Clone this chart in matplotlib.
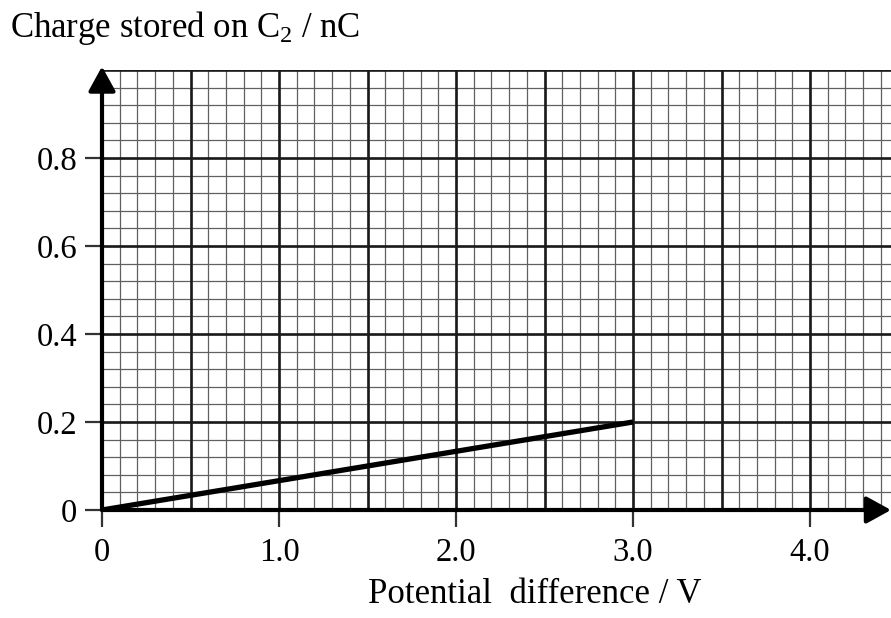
import numpy as np
import matplotlib
matplotlib.use('Agg')
import matplotlib.pyplot as plt

# datos
volts = [0.0, 3.0]
charge = [0.0, 0.2]
x_ticks = [0, 1.0, 2.0, 3.0, 4.0]
x_labels = ['0', '1.0', '2.0', '3.0', '4.0']
y_ticks = [0, 0.2, 0.4, 0.6, 0.8]
y_labels = ['0', '0.2', '0.4', '0.6', '0.8']

plt.rcParams['font.family'] = ['Liberation Serif', 'DejaVu Serif']
plt.rcParams['mathtext.fontset'] = 'custom'
plt.rcParams['mathtext.rm'] = 'Liberation Serif'
plt.rcParams['mathtext.it'] = 'Liberation Serif:italic'

W, H = 891, 618
fig = plt.figure(figsize=(W / 100, H / 100), dpi=100)
ax = fig.add_axes([102 / W, 108 / H, (W - 102) / W, 440 / H])

x_max = (W - 102) / 177
ax.set_xlim(0, x_max)
ax.set_ylim(0, 1.0)

# papel milimetrado
for xv in np.arange(0.1, x_max, 0.1):
    ax.axvline(xv, color='#606060', lw=0.9, zorder=1)
for yv in np.arange(0.04, 1.0, 0.04):
    ax.axhline(yv, color='#606060', lw=0.9, zorder=1)
for xv in np.arange(0.5, x_max, 0.5):
    ax.axvline(xv, color='#1a1a1a', lw=1.9, zorder=2)
for yv in np.arange(0.2, 1.01, 0.2):
    ax.axhline(yv, color='#1a1a1a', lw=1.9, zorder=2)

ax.plot(volts, charge, color='black', lw=3.8, solid_capstyle='butt', zorder=4)

for s in ax.spines.values():
    s.set_visible(False)

ax.set_xticks(x_ticks)
ax.set_xticklabels(x_labels)
ax.set_yticks(y_ticks)
ax.set_yticklabels(y_labels)
ax.tick_params(axis='both', which='major', length=12, width=1.6, color='#333333',
               labelsize=23.5, direction='out')
ax.tick_params(axis='x', pad=8)
ax.tick_params(axis='y', pad=6)

# ejes con flechas
arrow = dict(arrowstyle='-|>,head_length=1.0,head_width=0.55', mutation_scale=15,
             lw=3, color='black', shrinkA=0, shrinkB=0)
ax.annotate('', xy=(0, 1.008), xytext=(0, 0), xycoords='data',
            arrowprops=arrow, annotation_clip=False, zorder=5)
ax.annotate('', xy=(x_max, 0), xytext=(0, 0), xycoords='data',
            arrowprops=arrow, annotation_clip=False, zorder=5)

fig.text(10 / W, 1 - 37 / H, r'Charge stored on $\mathrm{C_2}$ / nC', fontsize=25,
         ha='left', va='baseline')
fig.text(535 / W, 1 - 603 / H, 'Potential  difference / V', fontsize=25,
         ha='center', va='baseline')

plt.savefig('out.png', dpi=100)
